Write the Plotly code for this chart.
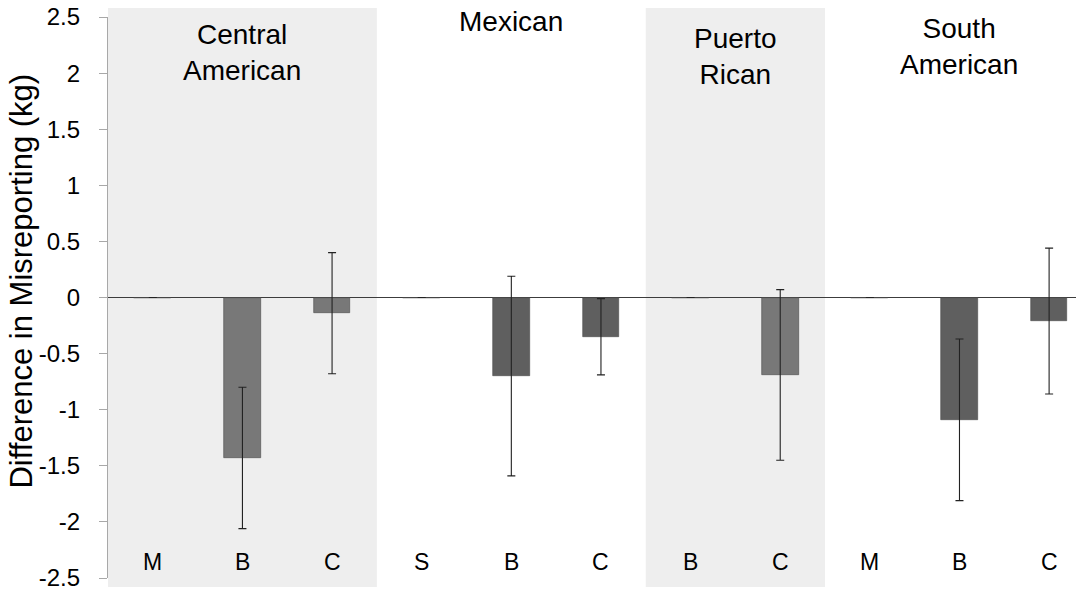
import plotly.graph_objects as go

# Groups, their sub-categories, mean differences (kg) and error half-widths
groups = ["Central<br>American", "Mexican", "Puerto<br>Rican", "South<br>American"]
group_shaded = [True, False, True, False]
group_label_y = [2.18, 2.46, 2.15, 2.24]
group_colors = ["#787878", "#5f5f5f", "#787878", "#5f5f5f"]

ca_labels = ["M", "B", "C"]
mx_labels = ["S", "B", "C"]
pr_labels = ["B", "C"]
sa_labels = ["M", "B", "C"]

ca_values = [0.0, -1.43, -0.14]
mx_values = [0.0, -0.70, -0.35]
pr_values = [0.0, -0.69]
sa_values = [0.0, -1.09, -0.21]

ca_errors = [0.0, 0.63, 0.54]
mx_errors = [0.0, 0.89, 0.34]
pr_errors = [0.0, 0.76]
sa_errors = [0.0, 0.72, 0.65]

y_ticks = [2.5, 2, 1.5, 1, 0.5, 0, -0.5, -1, -1.5, -2, -2.5]

labels_by_group = [ca_labels, mx_labels, pr_labels, sa_labels]
values_by_group = [ca_values, mx_values, pr_values, sa_values]
errors_by_group = [ca_errors, mx_errors, pr_errors, sa_errors]

FONT = "Liberation Sans, Arial, Helvetica, sans-serif"

fig = go.Figure()
shapes = []
annotations = []

pos = 0
for gi, (labels, vals, errs) in enumerate(zip(labels_by_group, values_by_group, errors_by_group)):
    xs = list(range(pos, pos + len(labels)))
    fig.add_trace(go.Bar(
        x=xs, y=vals, width=0.41,
        marker=dict(color=group_colors[gi], line=dict(color="#4a4a4a", width=0.6)),
        error_y=dict(type="data", array=errs, visible=True,
                     color="#222222", thickness=1.1, width=4),
        showlegend=False, hoverinfo="skip",
    ))
    # band behind the group
    if group_shaded[gi]:
        shapes.append(dict(type="rect", xref="x", yref="paper",
                           x0=pos - 0.5, x1=pos + len(labels) - 0.5,
                           y0=-0.016, y1=1.016,
                           fillcolor="#eeeeee", line=dict(width=0), layer="below"))
    # group heading
    annotations.append(dict(x=(xs[0] + xs[-1]) / 2, y=group_label_y[gi],
                            xref="x", yref="y", text=groups[gi], showarrow=False,
                            xanchor="center", yanchor="middle",
                            font=dict(family=FONT, size=28, color="#000000")))
    # sub-category letters along the bottom
    for x, lab in zip(xs, labels):
        annotations.append(dict(x=x, y=-2.36, xref="x", yref="y", text=lab,
                                showarrow=False, xanchor="center", yanchor="middle",
                                font=dict(family=FONT, size=23, color="#000000")))
    pos += len(labels)

# y-axis title drawn as rotated text
annotations.append(dict(x=-0.089, y=0.53, xref="paper", yref="paper",
                        text="Difference in Misreporting (kg)", textangle=-90,
                        showarrow=False, xanchor="center", yanchor="middle",
                        font=dict(family=FONT, size=31, color="#000000")))

fig.update_layout(
    width=1076, height=595,
    margin=dict(l=108, r=0, t=17, b=17, pad=0),
    paper_bgcolor="white", plot_bgcolor="rgba(0,0,0,0)",
    bargap=0, shapes=shapes, annotations=annotations,
    xaxis=dict(range=[-0.5, 10.30], showgrid=False, zeroline=False,
               showline=False, showticklabels=False, ticks=""),
    yaxis=dict(range=[-2.5, 2.5], tickvals=y_ticks, ticktext=[f"{v:g}" for v in y_ticks],
               showgrid=False, zeroline=True, zerolinecolor="#3c3c3c", zerolinewidth=1.2,
               showline=True, linecolor="#a8a8a8", linewidth=1.2,
               ticks="outside", ticklen=8, tickcolor="#a8a8a8", tickwidth=1,
               ticklabelstandoff=14,
               tickfont=dict(family=FONT, size=24, color="#000000")),
)

fig.write_html("out.html")
